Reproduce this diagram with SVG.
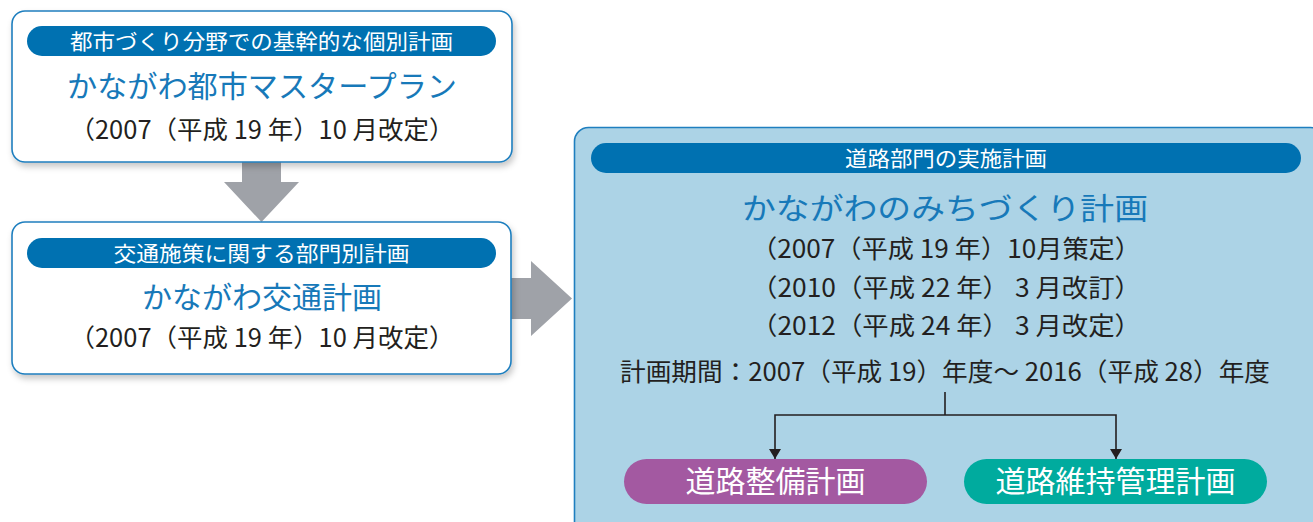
<svg xmlns="http://www.w3.org/2000/svg" width="1313" height="522" viewBox="0 0 1313 522">
<defs>
<style>
.jp{font-family:"Noto Sans CJK JP","Noto Sans",sans-serif;}
.card{fill:#ffffff;stroke:#1f7fbf;stroke-width:1.6;}
.hdr{fill:#0071b1;}
.hdrt{fill:#ffffff;font-size:21px;text-anchor:middle;}
.ttl{fill:#1779b9;font-size:30px;text-anchor:middle;}
.sub{fill:#231f20;font-size:25px;text-anchor:middle;}
.garrow{fill:#9fa2a8;}
.conn{fill:none;stroke:#231f20;stroke-width:1.6;}
.pillt{fill:#ffffff;font-size:30px;text-anchor:middle;}
</style>
<filter id="sh" x="-5%" y="-10%" width="112%" height="125%">
<feDropShadow dx="2" dy="4" stdDeviation="3" flood-color="#000" flood-opacity="0.22"/>
</filter>
<marker id="ah" viewBox="0 0 10 12" refX="10" refY="6" markerWidth="10" markerHeight="12" markerUnits="userSpaceOnUse" orient="auto">
<path d="M0,0 L10,6 L0,12 Z" fill="#231f20"/>
</marker>
</defs>
<rect width="1313" height="522" fill="#ffffff"/>

<g id="arrows">
<path class="garrow" d="M242,160 H281 V182 H299 L261.5,222 L224,182 H242 Z"/>
<path class="garrow" d="M510,278 H531 V261 L572,298.5 L531,336 V319 H510 Z"/>
</g>

<g id="node-toshi-master">
<rect class="card" x="12" y="11" width="500" height="151" rx="13" filter="url(#sh)"/>
<rect class="hdr" x="27" y="26" width="469" height="30" rx="15"/>
<text class="jp hdrt" x="261.5" y="49" textLength="383" lengthAdjust="spacingAndGlyphs">都市づくり分野での基幹的な個別計画</text>
<text class="jp ttl" x="262" y="97" textLength="390" lengthAdjust="spacingAndGlyphs">かながわ都市マスタープラン</text>
<text class="jp sub" x="262" y="139" textLength="385" lengthAdjust="spacingAndGlyphs">（2007（平成 19 年）10 月改定）</text>
</g>

<g id="node-kotsu">
<rect class="card" x="12" y="222" width="499" height="152" rx="13" filter="url(#sh)"/>
<rect class="hdr" x="27" y="238" width="469" height="30" rx="15"/>
<text class="jp hdrt" x="261.5" y="261" textLength="296" lengthAdjust="spacingAndGlyphs">交通施策に関する部門別計画</text>
<text class="jp ttl" x="262" y="308" textLength="240" lengthAdjust="spacingAndGlyphs">かながわ交通計画</text>
<text class="jp sub" x="262" y="347" textLength="385" lengthAdjust="spacingAndGlyphs">（2007（平成 19 年）10 月改定）</text>
</g>

<g id="node-michizukuri">
<rect x="574.5" y="127.5" width="750" height="420" rx="14" fill="#acd3e6" stroke="#1f7fbf" stroke-width="1.6"/>
<rect class="hdr" x="591" y="143" width="710" height="30" rx="15"/>
<text class="jp hdrt" x="946" y="166" textLength="202" lengthAdjust="spacingAndGlyphs">道路部門の実施計画</text>
<text class="jp ttl" x="945" y="219" font-size="34" textLength="406" lengthAdjust="spacingAndGlyphs">かながわのみちづくり計画</text>
<text class="jp sub" x="946" y="258" textLength="390" lengthAdjust="spacingAndGlyphs">（2007（平成 19 年）10月策定）</text>
<text class="jp sub" x="946" y="297" textLength="390" lengthAdjust="spacingAndGlyphs">（2010（平成 22 年） 3 月改訂）</text>
<text class="jp sub" x="946" y="335" textLength="390" lengthAdjust="spacingAndGlyphs">（2012（平成 24 年） 3 月改定）</text>
<text class="jp sub" x="945" y="381" textLength="650" lengthAdjust="spacingAndGlyphs">計画期間：2007（平成 19）年度～ 2016（平成 28）年度</text>
</g>

<g id="connectors">
<path class="conn" d="M945,392 V415"/>
<path class="conn" d="M945,415 H775 V459" marker-end="url(#ah)"/>
<path class="conn" d="M945,415 H1116 V459" marker-end="url(#ah)"/>
</g>

<g id="node-seibi">
<rect x="624" y="459" width="303" height="45" rx="22.5" fill="#a359a1"/>
<text class="jp pillt" x="775.5" y="492">道路整備計画</text>
</g>

<g id="node-iji">
<rect x="964" y="459" width="303" height="45" rx="22.5" fill="#00ab9e"/>
<text class="jp pillt" x="1115.5" y="492">道路維持管理計画</text>
</g>
</svg>
